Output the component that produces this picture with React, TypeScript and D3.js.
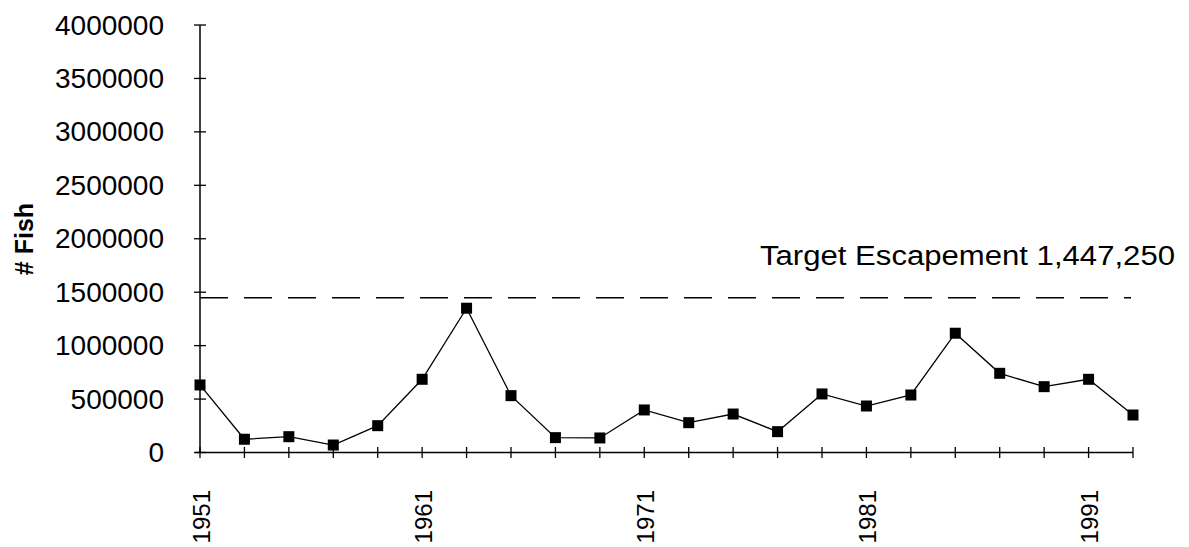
import React from "react";
import * as d3 from "d3";

const years = [1951,1953,1955,1957,1959,1961,1963,1965,1967,1969,1971,1973,1975,1977,1979,1981,1983,1985,1987,1989,1991,1993];
const fish = [632000,124000,148000,70000,251000,685000,1350000,532000,139000,136000,398000,279000,360000,195000,548000,435000,538000,1116000,741000,616000,685000,351000];
const yTicks = [0,500000,1000000,1500000,2000000,2500000,3000000,3500000,4000000];
const xLabelYears = [1951,1961,1971,1981,1991];
const targetValue = 1447250;
const targetLabel = "Target Escapement 1,447,250";
const yTitle = "# Fish";

export default function App() {
  const W = 1189, H = 547;
  const x = d3.scaleLinear().domain([1951, 1993]).range([200, 1133]);
  const y = d3.scaleLinear().domain([0, 4000000]).range([452.5, 25]);
  const line = d3.line<number>().x((_, i) => x(years[i])).y((d) => y(d));
  const font = "'Liberation Sans', Arial, sans-serif";
  const ty = y(targetValue);
  return (
    <svg width={W} height={H} style={{ position: "absolute", left: 0, top: 0, background: "#fff" }}>
      <rect width={W} height={H} fill="#fff" />
      {/* y axis */}
      <line x1={x(1951)} x2={x(1951)} y1={y(4000000)} y2={y(0)} stroke="#000" strokeWidth={1.5} />
      {yTicks.map((t) => (
        <g key={t}>
          <line x1={194} x2={206} y1={y(t)} y2={y(t)} stroke="#000" strokeWidth={1.3} />
          <text x={164} y={y(t)} textAnchor="end" dominantBaseline="central" fontFamily={font} fontSize={28} fill="#000">
            {t}
          </text>
        </g>
      ))}
      {/* x axis */}
      <line x1={195} x2={x(1993)} y1={y(0)} y2={y(0)} stroke="#000" strokeWidth={1.3} />
      {years.map((yr) => (
        <line key={yr} x1={x(yr)} x2={x(yr)} y1={447} y2={458} stroke="#000" strokeWidth={1.3} />
      ))}
      {xLabelYears.map((yr) => (
        <text key={yr} transform={`translate(${x(yr) + 1},490) rotate(-90)`} textAnchor="end" dominantBaseline="central" fontFamily={font} fontSize={24} fill="#000">
          {yr}
        </text>
      ))}
      {/* y title */}
      <text transform="translate(24,239) rotate(-90)" textAnchor="middle" dominantBaseline="central" fontFamily={font} fontWeight="bold" fontSize={25} fill="#000">
        {yTitle}
      </text>
      {/* target line */}
      <line x1={x(1951)} x2={1131} y1={ty} y2={ty} stroke="#000" strokeWidth={1.5} strokeDasharray="28 16" />
      <text x={760} y={265} fontFamily={font} fontSize={27} textLength={415} lengthAdjust="spacingAndGlyphs" fill="#000">
        {targetLabel}
      </text>
      {/* data */}
      <path d={line(fish) || ""} fill="none" stroke="#000" strokeWidth={1.3} />
      {fish.map((v, i) => (
        <rect key={i} x={x(years[i]) - 5.5} y={y(v) - 5.5} width={11} height={11} fill="#000" />
      ))}
    </svg>
  );
}
